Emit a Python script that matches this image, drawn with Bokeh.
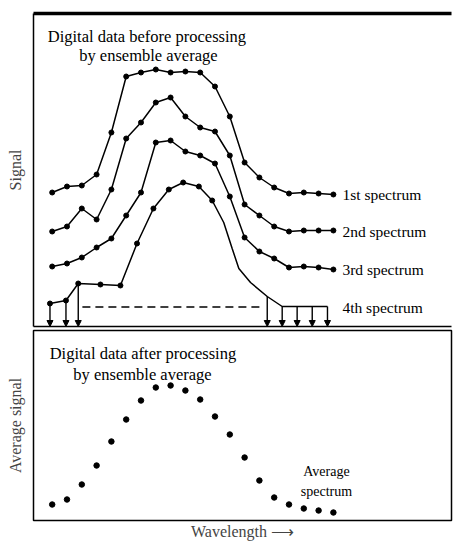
from bokeh.plotting import figure
from bokeh.layouts import column
from bokeh.models import (Range1d, LinearAxis, FixedTicker, Arrow,
                          NormalHead, ColumnDataSource)
from bokeh.embed import file_html
from bokeh.resources import INLINE
from bokeh.core.properties import value

# ---------------- data ----------------
wavelength = list(range(1, 21))
spectrum_1 = [134, 140, 141, 152, 194, 250, 254, 257, 254, 255, 254, 240, 210, 164, 149, 139, 133, 134, 133, 132]
spectrum_2 = [95, 100, 118, 107, 137, 188, 204, 224, 229, 210, 199, 195, 171, 122, 111, 100, 95, 96, 96, 96]
spectrum_3 = [60, 63, 69, 79, 88, 111, 134, 184, 186, 175, 171, 163, 130, 89, 75, 68, 59, 60, 59, 57]

wavelength_4 = [0.85, 1.93, 2.76, 4.26, 5.61, 6.73, 7.84, 8.88, 9.85, 10.91, 11.81,
                12.59, 13.16, 13.61, 14.40, 15.53, 16.54, 17.55, 18.57, 19.60]
spectrum_4 = [23, 26, 43, 42, 41, 83, 118, 137, 144, 140, 126,
              104, 78, 58, 44, 30, 20, 20, 20, 20]
n_marked_4 = 11                      # points of 4th spectrum drawn with dots
arrow_index_4 = [0, 1, 2, 15, 16, 17, 18, 19]
noise_level = 19.5
noise_span = [3.04, 15.33]

avg_spectrum = [16, 21, 36, 55, 79, 101, 120, 133, 135, 130, 121, 104, 86, 63, 40, 23, 16, 12, 10, 8]

spectrum_labels = ["1st spectrum", "2nd spectrum", "3rd spectrum", "4th spectrum"]
label_wl = 20.61
label_signal = [132, 95, 57.5, 19]

top_title = ["Digital data before processing", "by ensemble average"]
top_title_wl = [7.4, 7.5]
top_title_signal = [290, 271]
bottom_title = ["Digital data after processing", "by ensemble average"]
bottom_title_wl = [7.13, 7.1]
bottom_title_signal = [167, 146]
avg_label = ["Average", "spectrum"]
avg_label_wl = [19.53, 19.53]
avg_label_signal = [49, 29]

FONT = "Liberation Serif"
x_range = Range1d(-0.2635, 27.98)

# ---------------- top panel ----------------
p1 = figure(width=453, height=328, x_range=x_range, y_range=Range1d(0, 313),
            output_backend="svg", toolbar_location=None,
            min_border_left=33, min_border_right=2, min_border_top=13, min_border_bottom=2)
p1.grid.visible = False
p1.outline_line_color = None

def bare(ax, width=1.5):
    ax.ticker = FixedTicker(ticks=[])
    ax.major_tick_out = 0
    ax.major_tick_in = 0
    ax.minor_tick_out = 0
    ax.minor_tick_in = 0
    ax.major_label_text_font_size = "0px"
    ax.axis_line_width = width
    ax.axis_line_color = "black"

bare(p1.xaxis[0])
bare(p1.yaxis[0])
p1.yaxis[0].axis_label = "Signal"
p1.yaxis[0].axis_label_text_font = FONT
p1.yaxis[0].axis_label_text_font_style = "normal"
p1.yaxis[0].axis_label_text_font_size = "16px"
p1.yaxis[0].axis_label_standoff = 10
top_ax = LinearAxis()
bare(top_ax, 3.5)
p1.add_layout(top_ax, "above")

for s in (spectrum_1, spectrum_2, spectrum_3):
    p1.line(wavelength, s, line_color="black", line_width=1.5)
    p1.scatter(wavelength, s, size=5, color="black")

p1.line(wavelength_4, spectrum_4, line_color="black", line_width=1.5)
p1.scatter(wavelength_4[:n_marked_4], spectrum_4[:n_marked_4], size=5, color="black")
p1.line(noise_span, [noise_level, noise_level], line_color="black",
        line_width=1.3, line_dash="8 5")

arrow_src = ColumnDataSource(dict(
    x0=[wavelength_4[i] for i in arrow_index_4],
    y0=[spectrum_4[i] for i in arrow_index_4],
    x1=[wavelength_4[i] for i in arrow_index_4],
    y1=[0] * len(arrow_index_4)))
p1.add_layout(Arrow(source=arrow_src, x_start="x0", y_start="y0", x_end="x1", y_end="y1",
                    line_width=1.4, line_color="black",
                    end=NormalHead(size=6, fill_color="black", line_color="black")))

p1.text([label_wl] * 4, label_signal, text=spectrum_labels,
        text_font=value(FONT), text_font_size="15.5px",
        text_baseline="middle", text_align="left", text_color="black")

p1.text(top_title_wl, top_title_signal, text=top_title,
        text_font=value(FONT), text_font_size="16.5px",
        text_baseline="alphabetic", text_align="center", text_color="black")

# ---------------- bottom panel ----------------
p2 = figure(width=453, height=215, x_range=x_range, y_range=Range1d(0, 190),
            output_backend="svg", toolbar_location=None,
            min_border_left=33, min_border_right=2, min_border_top=2, min_border_bottom=23)
p2.grid.visible = False
p2.outline_line_color = "black"
p2.outline_line_width = 1.5
bare(p2.xaxis[0])
bare(p2.yaxis[0])
p2.xaxis[0].axis_line_color = None
p2.yaxis[0].axis_line_color = None
p2.xaxis[0].axis_label = "Wavelength \u27f6"
p2.xaxis[0].axis_label_standoff = 2
p2.yaxis[0].axis_label = "Average signal"
p2.yaxis[0].axis_label_standoff = 10
for ax in (p2.xaxis[0], p2.yaxis[0]):
    ax.axis_label_text_font = FONT
    ax.axis_label_text_font_style = "normal"
p2.xaxis[0].axis_label_text_font_size = "16px"
p2.yaxis[0].axis_label_text_font_size = "16px"

p2.scatter(wavelength, avg_spectrum, size=5.5, color="black")

p2.text(bottom_title_wl, bottom_title_signal, text=bottom_title,
        text_font=value(FONT), text_font_size="16.5px",
        text_baseline="alphabetic", text_align="center", text_color="black")
p2.text(avg_label_wl, avg_label_signal, text=avg_label,
        text_font=value(FONT), text_font_size="14px",
        text_baseline="alphabetic", text_align="center", text_color="black")

layout = column(p1, p2, spacing=0)
open("out.html", "w").write(file_html(layout, INLINE))
